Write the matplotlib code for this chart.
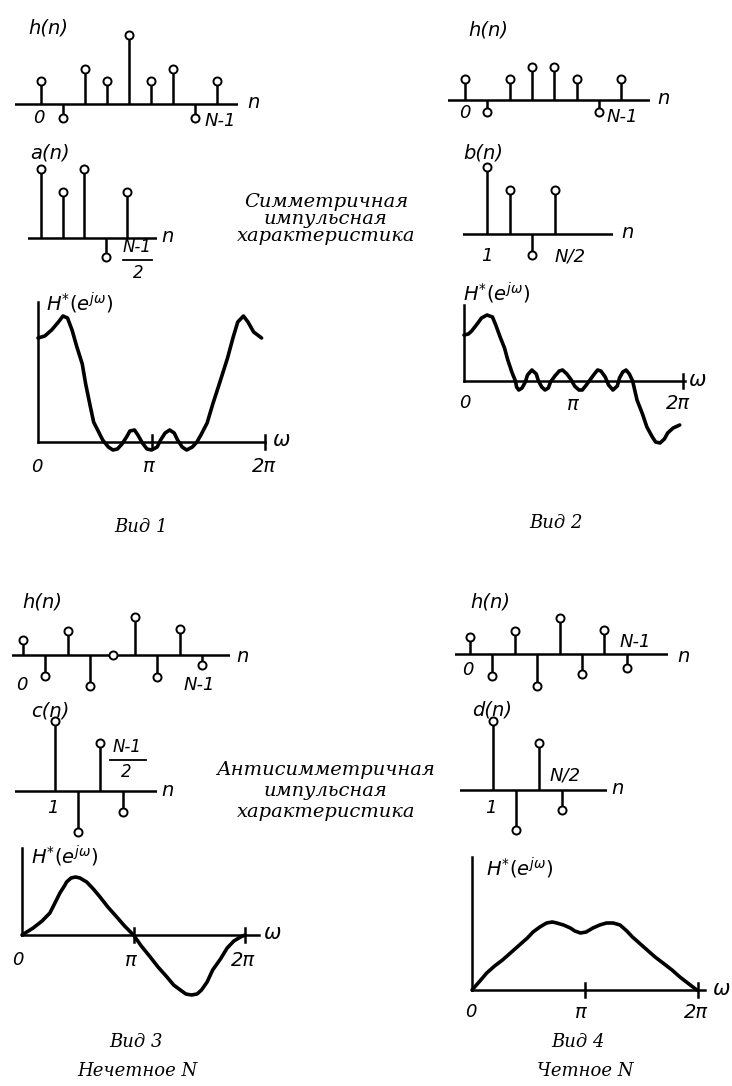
import numpy as np
import matplotlib
matplotlib.use('Agg')
import matplotlib.pyplot as plt

plt.rcParams['mathtext.fontset'] = 'dejavusans'

W, H = 732, 1086

# impulse responses (heights in drawing units above the n axis)
h1 = [23, -14, 35, 23, 69, 23, 35, -14, 23]
a1 = [69, 46, 69, -19, 46]
h2 = [21, -12, 21, 33, 33, 21, -12, 21]
b2 = [67, 44, -21, 44]
h3 = [15, -21, 24, -31, 0, 38, -22, 26, -10]
c3 = [70, -41, 48, -21]
h4 = [17, -22, 23, -32, 36, -20, 24, -14]
d4 = [69, -40, 47, -20]

# frequency responses, w in units of pi
w1 = [0.00, 0.06, 0.12, 0.18, 0.22, 0.26, 0.30, 0.34, 0.39, 0.42, 0.46, 0.49,
      0.53, 0.57, 0.62, 0.66, 0.70, 0.74, 0.78, 0.81, 0.85, 0.88, 0.92, 0.96,
      1.00, 1.05, 1.08, 1.12, 1.16, 1.20, 1.23, 1.27, 1.31, 1.36, 1.40, 1.44,
      1.49, 1.54, 1.60, 1.67, 1.72, 1.76, 1.81, 1.85, 1.90, 1.97]
H1 = [104, 106, 112, 120, 126, 124, 112, 96, 78, 58, 36, 20,
      11, 2, -5, -8, -7, -2, 5, 11, 12, 7, -1, -7,
      -8, -5, 2, 9, 12, 9, 2, -5, -8, -5, 0, 8,
      19, 38, 59, 84, 105, 120, 126, 120, 110, 104]

w2 = [0.00, 0.04, 0.07, 0.12, 0.16, 0.21, 0.26, 0.29, 0.33, 0.37, 0.40, 0.44,
      0.47, 0.48, 0.50, 0.53, 0.56, 0.58, 0.62, 0.66, 0.68, 0.71, 0.74, 0.77,
      0.79, 0.83, 0.87, 0.90, 0.94, 0.98, 1.01, 1.05, 1.08, 1.11, 1.15, 1.19,
      1.22, 1.25, 1.29, 1.32, 1.36, 1.40, 1.42, 1.45, 1.48, 1.51, 1.54, 1.58,
      1.63, 1.67, 1.72, 1.75, 1.79, 1.83, 1.86, 1.91, 1.97]
H2 = [46, 47, 50, 57, 63, 66, 64, 56, 44, 33, 21, 8,
      0, -6, -9, -7, -1, 6, 11, 7, 0, -6, -9, -7,
      -1, 5, 10, 11, 7, 1, -5, -9, -9, -5, 1, 7,
      11, 10, 4, -4, -9, -5, 3, 9, 11, 7, 0, -19,
      -33, -46, -56, -61, -62, -58, -52, -47, -44]

w3 = [0.00, 0.10, 0.18, 0.25, 0.30, 0.34, 0.38, 0.40, 0.44, 0.48, 0.52, 0.58,
      0.64, 0.70, 0.77, 0.85, 0.92, 1.00, 1.07, 1.15, 1.22, 1.30, 1.36, 1.42,
      1.47, 1.52, 1.57, 1.61, 1.66, 1.71, 1.78, 1.84, 1.90, 1.96, 2.00]
H3 = [0, 7, 14, 22, 33, 42, 49, 53, 57, 58, 57, 53,
      46, 38, 28, 18, 9, 0, -11, -22, -32, -42, -50, -55,
      -59, -60, -59, -55, -47, -35, -24, -13, -6, -2, 0]

w4 = [0.00, 0.07, 0.13, 0.20, 0.27, 0.35, 0.42, 0.49, 0.54, 0.60, 0.66, 0.71,
      0.75, 0.81, 0.87, 0.91, 0.96, 1.01, 1.07, 1.13, 1.19, 1.25, 1.31, 1.37,
      1.42, 1.49, 1.55, 1.62, 1.69, 1.77, 1.84, 1.92, 1.99]
H4 = [0, 9, 17, 24, 30, 38, 45, 52, 58, 63, 67, 68,
      67, 65, 62, 59, 57, 58, 62, 65, 67, 67, 65, 59,
      53, 46, 40, 33, 27, 20, 13, 6, 0]

fig = plt.figure(figsize=(W / 100, H / 100), dpi=100)
fig.patch.set_facecolor('white')

LW = 1.8
LAT = dict(family='DejaVu Sans', style='italic', color='black')
CYR = dict(family='DejaVu Serif', style='italic', color='black')


def panel(l, t, r, b, px0, sx, yb):
    """axes over pixel box (l, t, r, b); data x=0 at px0, sx pixels per unit,
    data y=0 at pixel row yb, one unit per pixel"""
    ax = fig.add_axes([l / W, 1 - b / H, (r - l) / W, (b - t) / H])
    ax.set_xlim((l - px0) / sx, (r - px0) / sx)
    ax.set_ylim(yb - b, yb - t)
    ax.axis('off')
    return ax


def stems(ax, n, vals):
    ax.axhline(0, color='k', lw=LW)
    ax.vlines(n, 0, vals, color='k', lw=LW)
    ax.plot(n, vals, 'o', ms=5.8, mfc='white', mec='k', mew=1.4, zorder=3,
            clip_on=False)


def response(ax, w, vals, top, xend, ticks):
    ax.plot([0, 0], [0, top], color='k', lw=LW)
    ax.plot([0, xend], [0, 0], color='k', lw=LW)
    for t in ticks:
        ax.plot([t, t], [-7, 7], color='k', lw=LW)
    ax.plot(w, vals, color='k', lw=2.6, solid_capstyle='round',
            solid_joinstyle='round')


def label(x, y, s, size=13, **kw):
    props = dict(LAT)
    props.update(kw)
    fig.text(x / W, 1 - y / H, s, ha='center', va='center', fontsize=size,
             **props)


# ---- Вид 1 ----
ax = panel(15, 14, 238, 150, 41, 22.0, 104)
stems(ax, np.arange(len(h1)), h1)
label(48, 28, 'h(n)', 14)
label(39, 118, '0')
label(220, 121, 'N-1')
label(253, 102, 'n', 14)

ax = panel(28, 148, 157, 290, 41, 21.5, 238)
stems(ax, np.arange(len(a1)), a1)
label(50, 153, 'a(n)', 14)
label(168, 236, 'n', 14)
label(137, 247, 'N-1', 12)
fig.add_artist(plt.Line2D([123 / W, 152 / W], [1 - 260 / H, 1 - 260 / H],
                          color='k', lw=1.3))
label(138, 273, '2', 12)

ax = panel(30, 290, 272, 480, 38, 113.5, 442)
response(ax, w1, H1, 140, 2.0, [1.0, 2.0])
label(80, 303, r'$H^{*}(e^{j\omega})$', 14)
label(37, 467, '0')
label(149, 467, 'π', 14)
label(264, 466, '2π', 14)
label(282, 440, 'ω', 15)
label(141, 527, 'Вид 1', 13, **CYR)

# ---- Вид 2 ----
ax = panel(448, 14, 650, 150, 465, 22.3, 100)
stems(ax, np.arange(len(h2)), h2)
label(488, 30, 'h(n)', 14)
label(465, 113, '0')
label(622, 117, 'N-1')
label(664, 99, 'n', 14)

ax = panel(463, 150, 613, 290, 487 - 22.7, 22.7, 234)
stems(ax, np.arange(1, len(b2) + 1), b2)
label(483, 153, 'b(n)', 14)
label(487, 256, '1')
label(570, 256, 'N/2')
label(627, 232, 'n', 14)

ax = panel(456, 290, 700, 460, 464, 109.5, 381)
response(ax, w2, H2, 76, 2.02, [2.0])
label(497, 293, r'$H^{*}(e^{j\omega})$', 14)
label(465, 403, '0')
label(573, 405, 'π', 14)
label(678, 404, '2π', 14)
label(698, 380, 'ω', 15)
label(556, 523, 'Вид 2', 13, **CYR)

# ---- Вид 3 ----
ax = panel(12, 580, 230, 720, 23, 22.4, 655)
stems(ax, np.arange(len(h3)), h3)
label(42, 602, 'h(n)', 14)
label(22, 685, '0')
label(199, 685, 'N-1')
label(243, 656, 'n', 14)

ax = panel(15, 700, 157, 850, 55 - 22.7, 22.7, 791)
stems(ax, np.arange(1, len(c3) + 1), c3)
label(50, 711, 'c(n)', 14)
label(127, 747, 'N-1', 12)
fig.add_artist(plt.Line2D([110 / W, 146 / W], [1 - 760 / H, 1 - 760 / H],
                          color='k', lw=1.3))
label(126, 772, '2', 12)
label(53, 808, '1')
label(167, 790, 'n', 14)

ax = panel(14, 840, 265, 1010, 22, 111.5, 935)
response(ax, w3, H3, 87, 2.13, [1.0, 2.0])
label(65, 856, r'$H^{*}(e^{j\omega})$', 14)
label(18, 960, '0')
label(131, 960, 'π', 14)
label(243, 960, '2π', 14)
label(273, 933, 'ω', 15)
label(136, 1042, 'Вид 3', 13, **CYR)
label(137, 1071, 'Нечетное N', 13, **CYR)

# ---- Вид 4 ----
ax = panel(455, 580, 668, 720, 470, 22.4, 654)
stems(ax, np.arange(len(h4)), h4)
label(490, 602, 'h(n)', 14)
label(468, 670, '0')
label(635, 642, 'N-1')
label(683, 656, 'n', 14)

ax = panel(460, 700, 607, 850, 493 - 23, 23.0, 790)
stems(ax, np.arange(1, len(d4) + 1), d4)
label(492, 710, 'd(n)', 14)
label(491, 808, '1')
label(565, 776, 'N/2')
label(618, 789, 'n', 14)

ax = panel(464, 850, 710, 1000, 472, 113.0, 990)
response(ax, w4, H4, 133, 2.06, [1.0, 2.0])
label(520, 868, r'$H^{*}(e^{j\omega})$', 14)
label(471, 1012, '0')
label(581, 1012, 'π', 14)
label(696, 1012, '2π', 14)
label(722, 989, 'ω', 15)
label(578, 1042, 'Вид 4', 13, **CYR)
label(585, 1071, 'Четное N', 13, **CYR)

# side captions
for i, s in enumerate(['Симметричная', 'импульсная', 'характеристика']):
    label(326, 202 + 17 * i, s, 14, **CYR)
for i, s in enumerate(['Антисимметричная', 'импульсная', 'характеристика']):
    label(326, 770 + 21 * i, s, 14, **CYR)

fig.savefig('out.png', dpi=100, facecolor='white')
